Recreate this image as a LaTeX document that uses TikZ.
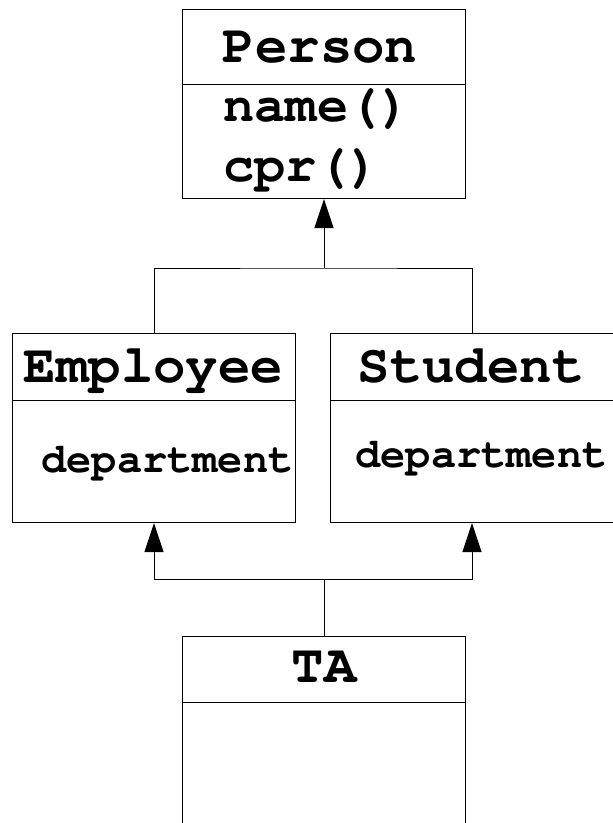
\documentclass[tikz,border=0pt]{standalone}
\usepackage{fontspec}
\setmonofont{TeX Gyre Cursor}
\usetikzlibrary{arrows.meta}
\begin{document}
\begin{tikzpicture}[x=1pt,y=-1pt, line width=1pt,
 cls/.style={draw, anchor=north west, inner sep=0pt, minimum width=283pt},
 title/.style={font=\ttfamily\bfseries\fontsize{54}{54}\selectfont, inner sep=0pt, anchor=base},
 item/.style={font=\ttfamily\bfseries\fontsize{52}{52}\selectfont, inner sep=0pt, anchor=base west},
 attr/.style={font=\ttfamily\bfseries\fontsize{42}{42}\selectfont, inner sep=0pt, anchor=base west},
 inh/.style={-{Triangle[length=29pt,width=19pt]}}]
\useasboundingbox (0,0) rectangle (613,823);
\clip (0,0) rectangle (613,823);
% boxes
\node[cls, minimum height=189pt] (person) at (182,9) {};
\node[cls, minimum height=189pt] (emp) at (12,333) {};
\node[cls, minimum height=189pt] (stu) at (330,333) {};
\node[cls, minimum height=200pt] (ta) at (182,636) {};
% compartments
\draw (person.west |- 0,84) -- (person.east |- 0,84);
\draw (emp.west |- 0,400) -- (emp.east |- 0,400);
\draw (stu.west |- 0,400) -- (stu.east |- 0,400);
\draw (ta.west |- 0,702) -- (ta.east |- 0,702);
% texts
\node[title] (tperson) at (320,62) {Person};
\node[item] (mname) at (223,121) {name()};
\node[item] (mcpr) at (223,181) {cpr()};
\node[title] (temp) at (153.5,382) {Employee};
\node[attr] (aemp) at (41,472) {department};
\node[title] (tstu) at (471,382) {Student};
\node[attr] (astu) at (355,467) {department};
\node[title] (tta) at (324,682) {TA};
% connectors
\coordinate (j1) at (person.south |- 0,268);
\draw (emp.north) |- (j1) -| (stu.north);
\draw[inh] (j1) -- (person.south);
\coordinate (j2) at (ta.north |- 0,579);
\draw (ta.north) -- (j2);
\draw[inh] (j2) -| (emp.south);
\draw[inh] (j2) -| (stu.south);
\end{tikzpicture}
\end{document}
